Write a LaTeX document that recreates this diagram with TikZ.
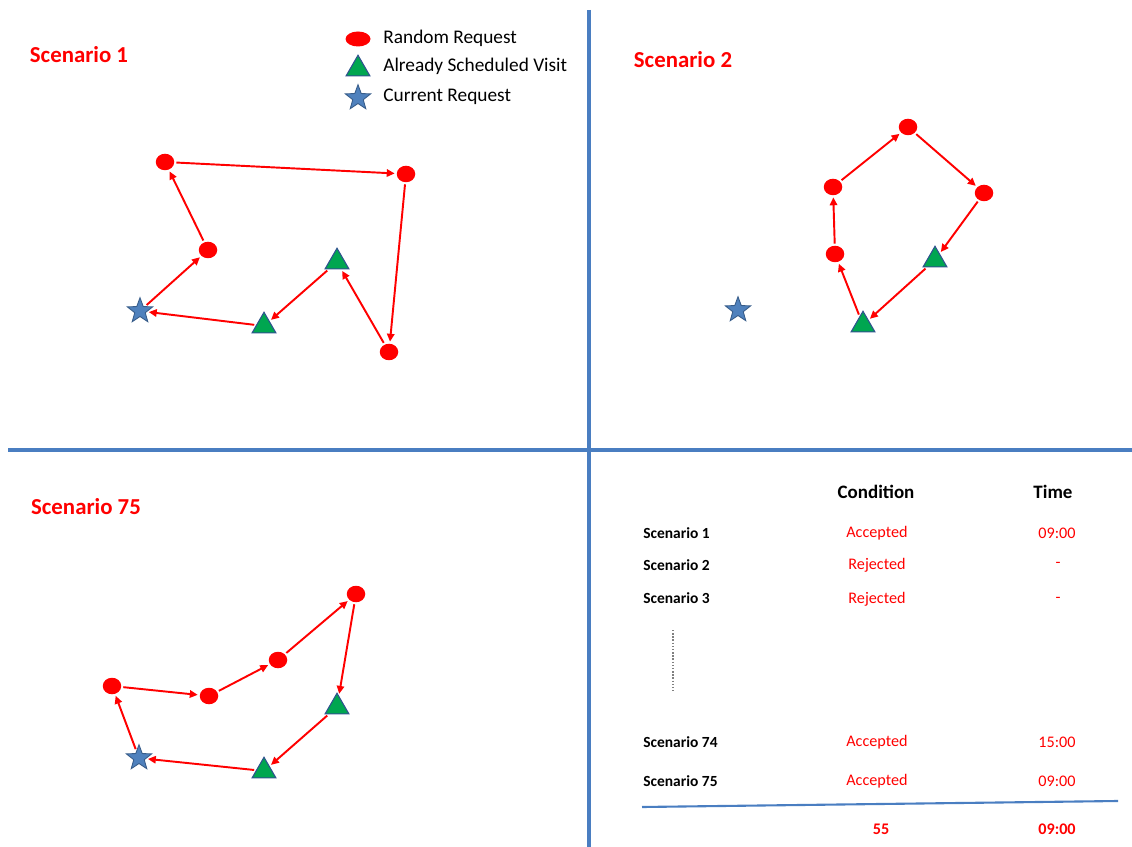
\documentclass[tikz,border=0pt]{standalone}
\usepackage{fontspec}
\setmainfont{Carlito}
\usetikzlibrary{shapes.geometric,arrows.meta}
\definecolor{divblue}{RGB}{74,126,193}
\definecolor{rred}{RGB}{255,0,0}
\definecolor{tgreen}{RGB}{0,166,80}
\definecolor{tedge}{RGB}{47,82,143}
\definecolor{sfill}{RGB}{79,129,189}
\definecolor{sedge}{RGB}{56,93,138}
\tikzset{
  rnode/.style={ellipse,fill=rred,inner sep=0pt,minimum width=0.37cm,minimum height=0.33cm},
  tnode/.style={regular polygon,regular polygon sides=3,fill=tgreen,draw=tedge,line width=0.6pt,inner sep=0pt,minimum size=0.55cm},
  snode/.style={star,star points=5,star point ratio=2.4,fill=sfill,draw=sedge,line width=0.5pt,inner sep=0pt,minimum size=0.53cm},
  arr/.style={draw=rred,line width=1.1pt,-{Triangle[length=4.5pt,width=4.2pt]},shorten >=1pt,shorten <=1pt},
  divider/.style={draw=divblue,line width=2.3pt},
  title/.style={text=rred,font=\fontsize{13}{15}\selectfont\bfseries},
  legtext/.style={anchor=west,font=\fontsize{11}{13}\selectfont,inner sep=0pt},
  rowlabel/.style={anchor=west,font=\fontsize{8.8}{10}\selectfont\bfseries,inner sep=0pt},
  hdr/.style={font=\fontsize{10.8}{12}\selectfont\bfseries,inner sep=0pt},
  cell/.style={text=rred,font=\fontsize{9.2}{10}\selectfont,inner sep=0pt},
  bcell/.style={text=rred,font=\fontsize{9.2}{10}\selectfont\bfseries,inner sep=0pt}
}
\begin{document}
\begin{tikzpicture}[x=0.02cm,y=-0.02cm]
\useasboundingbox (0,0) rectangle (1132,847);
% dividers
\coordinate (vt) at (589,10);
\coordinate (vb) at (589,847);
\coordinate (hl) at (8,450);
\coordinate (hr) at (1132,450);
\draw[divider] (vt) -- (vb);
\draw[divider] (hl) -- (hr);

% titles
\node[title] (t1) at (79,55) {Scenario 1};
\node[title] (t2) at (683,60) {Scenario 2};
\node[title] (t75) at (86,507) {Scenario 75};

% legend
\node[rnode,minimum width=0.5cm,minimum height=0.3cm] (lr) at (358,39) {};
\node[tnode,minimum size=0.55cm] (lt) at (358,69) {};
\node[snode] (ls) at (358,98) {};
\node[legtext] (lrt) at (383,38) {Random Request};
\node[legtext] (ltt) at (383,66) {Already Scheduled Visit};
\node[legtext] (lst) at (383,97) {Current Request};

% Scenario 1 graph
\node[rnode] (a1) at (165,162) {};
\node[rnode] (b1) at (406,174) {};
\node[rnode] (c1) at (208,250) {};
\node[rnode] (d1) at (389,352) {};
\node[tnode] (u1) at (337,262) {};
\node[tnode] (w1) at (264,326) {};
\node[snode] (s1) at (140,311) {};
\draw[arr] (s1) -- (c1);
\draw[arr] (c1) -- (a1);
\draw[arr] (a1) -- (b1);
\draw[arr] (b1) -- (d1);
\draw[arr] (d1) -- (u1);
\draw[arr] (u1) -- (w1);
\draw[arr] (w1) -- (s1);

% Scenario 2 graph
\node[rnode] (a2) at (908,127) {};
\node[rnode] (b2) at (833,187) {};
\node[rnode] (c2) at (984,193) {};
\node[rnode] (d2) at (835,254) {};
\node[tnode] (u2) at (935,260) {};
\node[tnode] (w2) at (863,325) {};
\node[snode] (s2) at (738,310) {};
\draw[arr] (w2) -- (d2);
\draw[arr] (d2) -- (b2);
\draw[arr] (b2) -- (a2);
\draw[arr] (a2) -- (c2);
\draw[arr] (c2) -- (u2);
\draw[arr] (u2) -- (w2);

% Scenario 75 graph
\node[rnode] (a3) at (356,594) {};
\node[rnode] (b3) at (278,660) {};
\node[rnode] (c3) at (209,696) {};
\node[rnode] (d3) at (112,686) {};
\node[tnode] (u3) at (337,707) {};
\node[tnode] (w3) at (264,771) {};
\node[snode] (s3) at (139,758) {};
\draw[arr] (s3) -- (d3);
\draw[arr] (d3) -- (c3);
\draw[arr] (c3) -- (b3);
\draw[arr] (b3) -- (a3);
\draw[arr] (a3) -- (u3);
\draw[arr] (u3) -- (w3);
\draw[arr] (w3) -- (s3);

% table
\node[hdr] (hc) at (876,492) {Condition};
\node[hdr] (ht) at (1053,492) {Time};
\node[rowlabel] (r1) at (643,533) {Scenario 1};
\node[rowlabel] (r2) at (643,565) {Scenario 2};
\node[rowlabel] (r3) at (643,598) {Scenario 3};
\node[rowlabel] (r74) at (643,742) {Scenario 74};
\node[rowlabel] (r75) at (643,781) {Scenario 75};
\node[cell] (c1r) at (877,533) {Accepted};
\node[cell] (c2r) at (877,565) {Rejected};
\node[cell] (c3r) at (877,599) {Rejected};
\node[cell] (c74r) at (877,742) {Accepted};
\node[cell] (c75r) at (877,781) {Accepted};
\node[cell] (m1) at (1057,533) {09:00};
\node[cell] (m2) at (1058,565) {-};
\node[cell] (m3) at (1058,600) {-};
\node[cell] (m74) at (1057,742) {15:00};
\node[cell] (m75) at (1057,781) {09:00};
\node[bcell] (tot) at (881,829) {55};
\node[bcell] (ttime) at (1057,829) {09:00};
\coordinate (dtop) at (673,630);
\coordinate (dbot) at (673,692);
\draw[gray,line width=0.8pt,dash pattern=on 0.8pt off 1pt] (dtop) -- (dbot);
\coordinate (ll) at (642,807);
\coordinate (lr2) at (1118,801);
\draw[divblue,line width=1.2pt] (ll) -- (lr2);
\end{tikzpicture}
\end{document}
